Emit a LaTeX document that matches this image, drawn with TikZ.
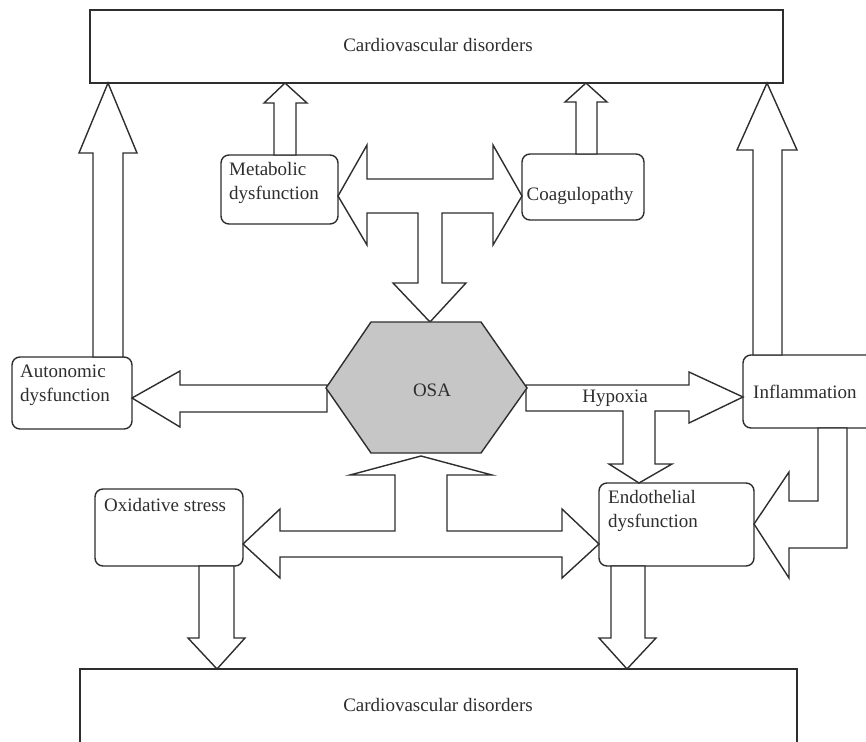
\documentclass[tikz,border=0pt]{standalone}
\usepackage{fontspec}
\setmainfont{Liberation Serif}
\definecolor{ln}{HTML}{2E2E2E}
\definecolor{hexfill}{HTML}{C6C6C6}
\begin{document}
\begin{tikzpicture}[x=1bp,y=-1bp,
  every node/.style={text=ln,font=\fontsize{19bp}{24bp}\selectfont},
  blk/.style={draw=ln,line width=1.4bp,fill=white,line join=miter},
  rbox/.style={draw=ln,line width=1.4bp,fill=white,rounded corners=8bp},
  sbox/.style={draw=ln,line width=1.4bp,fill=white},
  txt/.style={inner sep=0pt,align=left}
]
\useasboundingbox (0,0) rectangle (866,742);
\clip (0,0) rectangle (866,742);

% boxes
\draw[sbox] (90,10) rectangle (783,83);
\node (cvdtop) at (438,45) {Cardiovascular disorders};
\draw[sbox] (80,669) rectangle (797,760);
\node (cvdbot) at (438,705) {Cardiovascular disorders};

\draw[rbox] (12,357) rectangle (132,429);
\node[txt,anchor=west] (auto) at (20,385) {Autonomic\\dysfunction};
\draw[rbox] (221,155) rectangle (338,224);
\node[txt,anchor=west] (meta) at (229,183) {Metabolic\\dysfunction};
\draw[rbox] (522,154) rectangle (644,220);
\node[txt] (coag) at (580,196) {Coagulopathy};
\draw[rbox] (743,355) rectangle (890,428);
\node[txt,anchor=west] (infl) at (753,392) {Inflammation};
\draw[rbox] (599,483) rectangle (754,566);
\node[txt,anchor=west] (endo) at (608,511) {Endothelial\\dysfunction};
\draw[rbox] (95,489) rectangle (243,566);
\node[txt,anchor=west] (oxi) at (104,505) {Oxidative stress};

% up arrows to top box
\draw[blk] (93,357) -- (93,153) -- (79,153) -- (108,83) -- (137,153) -- (123,153) -- (123,357) -- cycle;
\draw[blk] (274,155) -- (274,103) -- (264,103) -- (285,83) -- (307,103) -- (296,103) -- (296,155) -- cycle;
\draw[blk] (576,154) -- (576,102) -- (565,102) -- (586,83) -- (607,102) -- (597,102) -- (597,154) -- cycle;
\draw[blk] (753,355) -- (753,150) -- (737,150) -- (767,83) -- (797,150) -- (782,150) -- (782,355) -- cycle;

% top T arrow
\draw[blk] (338,196) -- (367,145) -- (367,179) -- (493,179) -- (493,145) -- (522,196)
  -- (493,245) -- (493,213) -- (442,213) -- (442,283) -- (466,283) -- (430,322)
  -- (393,283) -- (418,283) -- (418,213) -- (367,213) -- (367,245) -- cycle;

% OSA -> autonomic
\draw[blk] (327,385) -- (180,385) -- (180,371) -- (132,398) -- (180,427) -- (180,412) -- (327,412) -- cycle;

% hypoxia arrow
\draw[blk] (526,385) -- (689,385) -- (689,372) -- (743,397) -- (689,423) -- (689,411)
  -- (655,411) -- (655,464) -- (672,464) -- (639,483) -- (609,464) -- (623,464)
  -- (623,411) -- (526,411) -- cycle;
\node[inner sep=0pt] (hyp) at (615,398) {Hypoxia};

% bottom T arrow
\draw[blk] (243,544) -- (280,509) -- (280,531) -- (395,531) -- (395,475) -- (350,475)
  -- (421,456) -- (492,475) -- (447,475) -- (447,531) -- (562,531) -- (562,509)
  -- (599,544) -- (562,578) -- (562,557) -- (280,557) -- (280,578) -- cycle;

% down arrows to bottom box
\draw[blk] (199,566) -- (199,638) -- (188,638) -- (217,669) -- (245,638) -- (234,638) -- (234,566) -- cycle;
\draw[blk] (611,566) -- (611,638) -- (599,638) -- (627,669) -- (656,638) -- (645,638) -- (645,566) -- cycle;

% inflammation -> endothelial L arrow
\draw[blk] (818,428) -- (818,501) -- (789,501) -- (789,472) -- (754,524) -- (789,578)
  -- (789,548) -- (847,548) -- (847,428) -- cycle;

% OSA hexagon
\draw[draw=ln,line width=1.4bp,fill=hexfill] (326,388) -- (371,322) -- (481,322) -- (527,388) -- (481,453) -- (371,453) -- cycle;
\node (osa) at (432,390) {OSA};
\end{tikzpicture}
\end{document}
